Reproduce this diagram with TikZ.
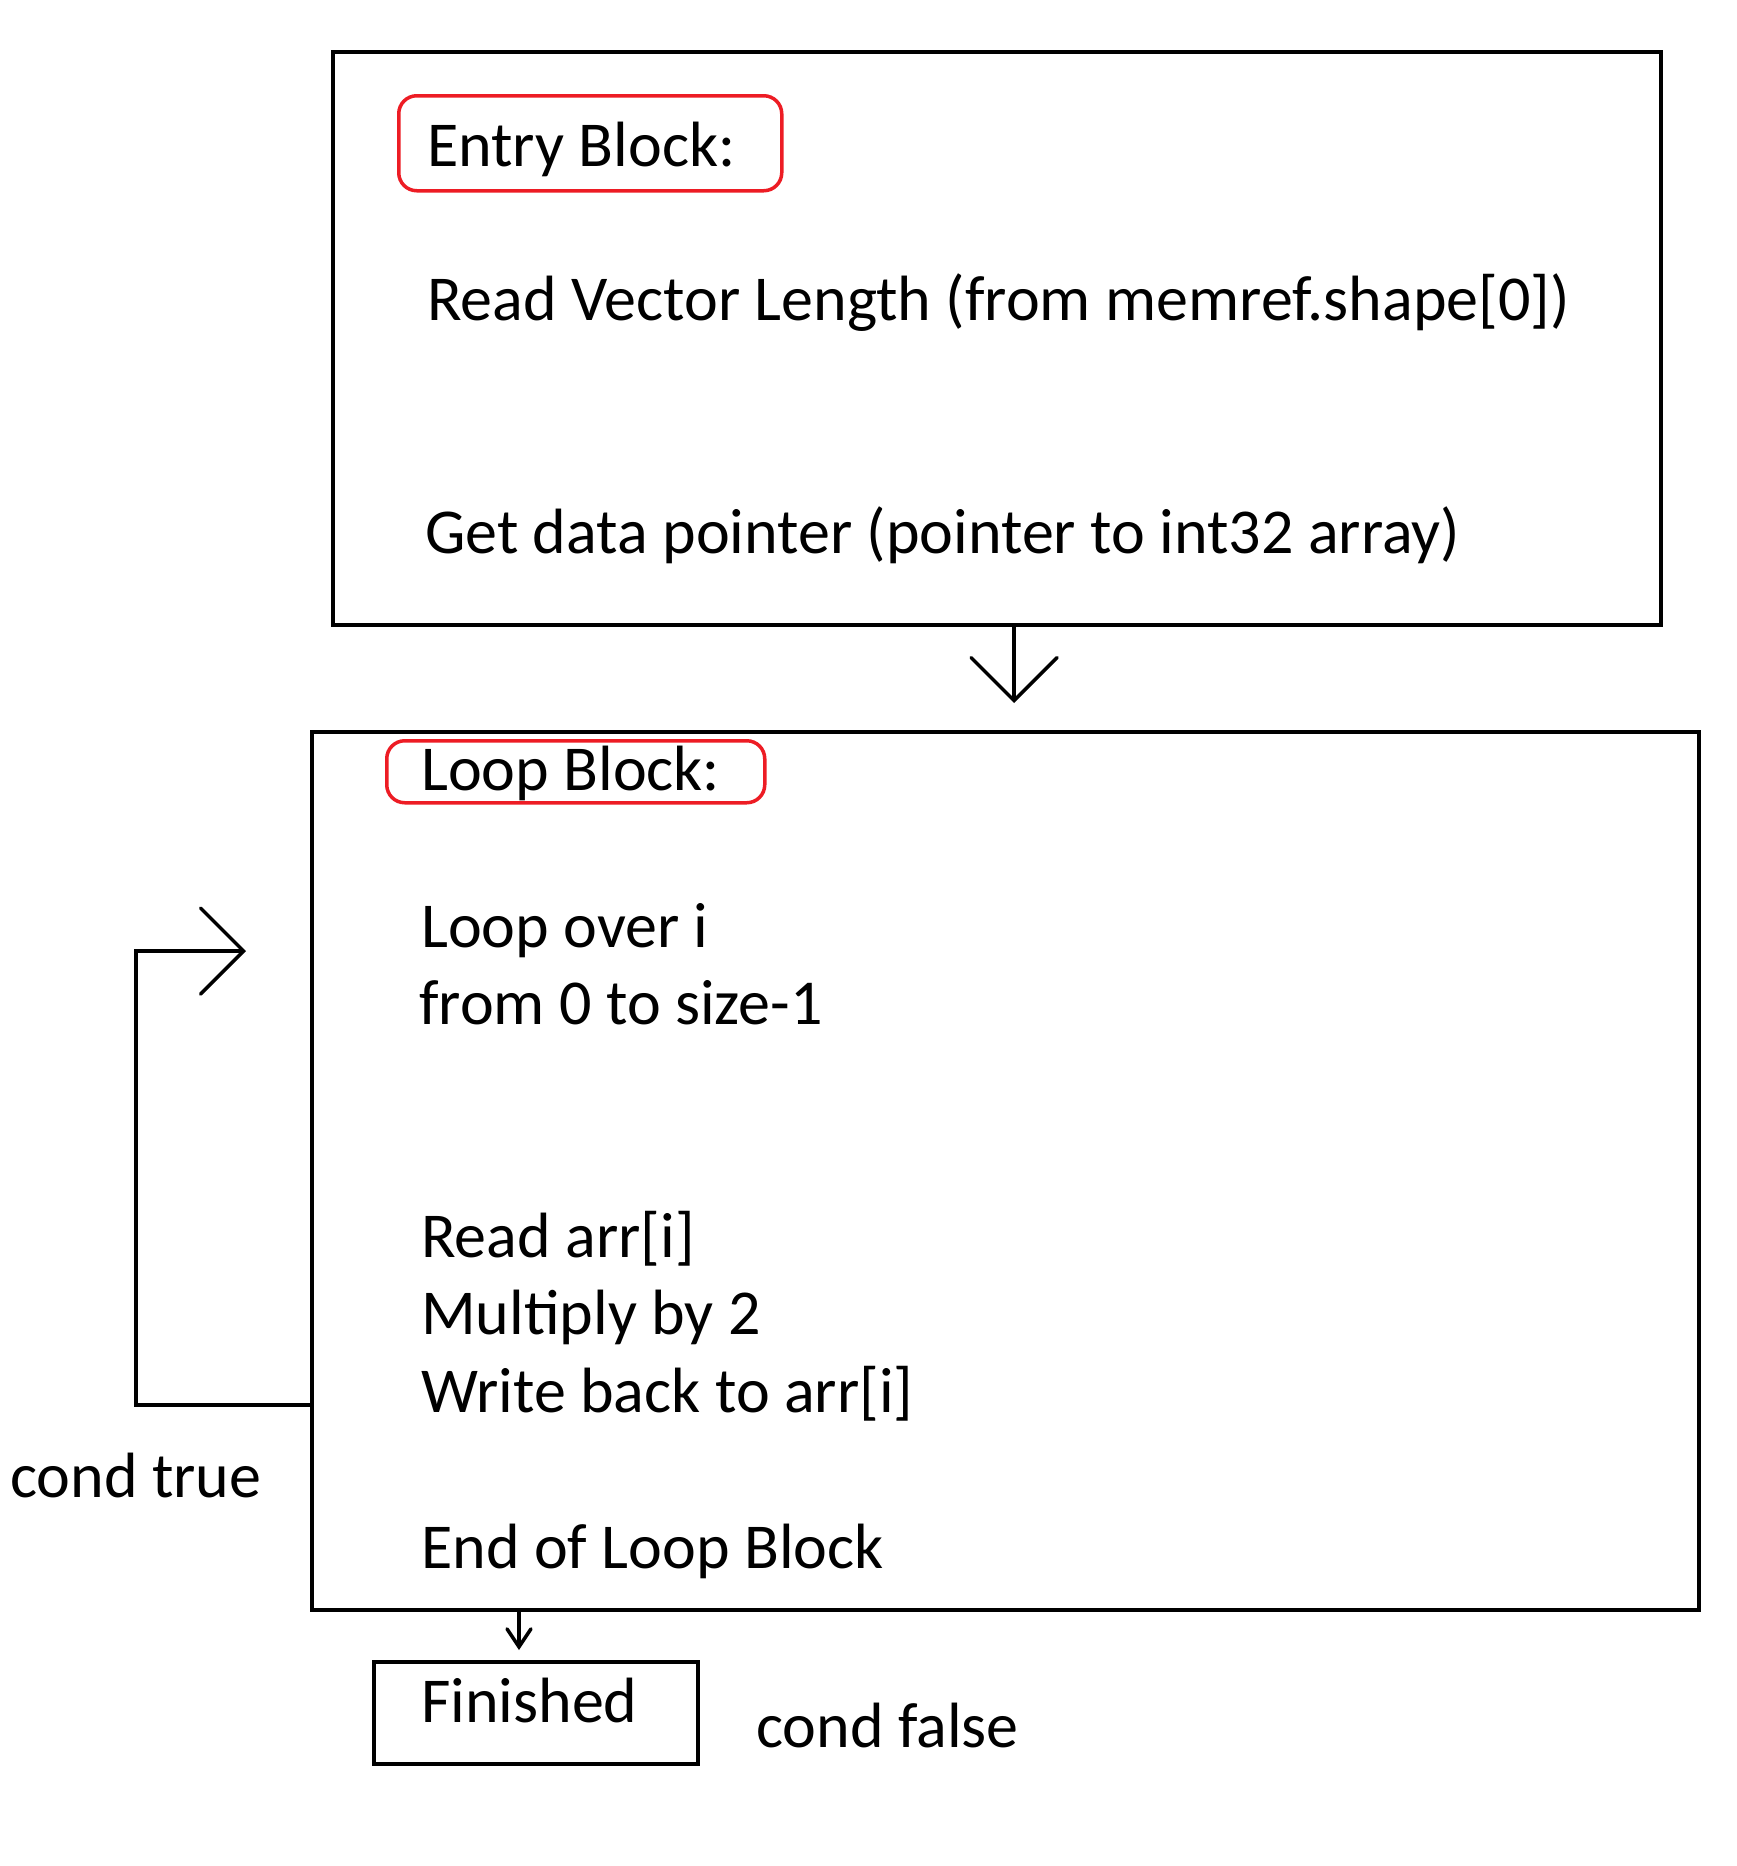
\documentclass[tikz,border=0pt]{standalone}
\usepackage{fontspec}
\setmainfont{Carlito}
\usetikzlibrary{arrows.meta}
\definecolor{paintred}{RGB}{237,28,36}
\begin{document}
\begin{tikzpicture}[x=1pt,y=-1pt,
  blockbox/.style={draw=black,line width=4pt,rectangle,inner sep=0pt,anchor=north west},
  tagbox/.style={draw=paintred,line width=3.5pt,rectangle,rounded corners=18pt,inner sep=0pt,anchor=north west},
  txt/.style={anchor=base west,inner sep=0pt,font=\fontsize{64}{76}\selectfont},
  conn/.style={draw=black,line width=3.5pt,line cap=round},
  bigtip/.style={-{Straight Barb[length=43pt,width=86pt,line width=3.5pt,line cap=round]}},
  smalltip/.style={-{Straight Barb[length=18pt,width=24pt,line width=3.5pt,line cap=round]}}]
\path[use as bounding box,fill=white] (0,0) rectangle (1737,1866);

% boxes
\node[blockbox,minimum width=1328pt,minimum height=573pt] (entry) at (331,50) {};
\node[blockbox,minimum width=1387pt,minimum height=878pt] (loop) at (310,730) {};
\node[blockbox,minimum width=324pt,minimum height=102pt] (fin) at (372,1660) {};

% red label frames
\node[tagbox,minimum width=383pt,minimum height=95pt] (entrytag) at (397,94) {};
\node[tagbox,minimum width=378pt,minimum height=62pt] (looptag) at (385,739) {};

% texts
\node[txt] (t1) at (427,166) {Entry Block:};
\node[txt] (t2) at (427,320) {Read Vector Length (from memref.shape[0])};
\node[txt] (t3) at (425,553) {Get data pointer (pointer to int32 array)};
\node[txt] (t4) at (421,790) {Loop Block:};
\node[txt] (t5) at (421,947) {Loop over i};
\node[txt] (t6) at (419,1024) {from 0 to size-1};
\node[txt] (t7) at (421,1257) {Read arr[i]};
\node[txt] (t8) at (421,1334) {Multiply by 2};
\node[txt] (t9) at (421,1412) {Write back to arr[i]};
\node[txt] (t10) at (421,1568) {End of Loop Block};
\node[txt] (t11) at (421,1722) {Finished};
\node[txt] (ctrue) at (10,1497) {cond true};
\node[txt] (cfalse) at (756,1747) {cond false};

% connectors
\coordinate (tipA) at (1014,703);
\draw[conn,bigtip] (entry.south -| tipA) -- (tipA);

\coordinate (backL) at (136,1405);
\coordinate (backT) at (136,951);
\coordinate (tipB) at (246,951);
\draw[conn,bigtip] (loop.west |- backL) -- (backL) -- (backT) -- (tipB);

\coordinate (tipC) at (519,1650);
\draw[conn,smalltip] (loop.south -| tipC) -- (tipC);
\end{tikzpicture}
\end{document}
